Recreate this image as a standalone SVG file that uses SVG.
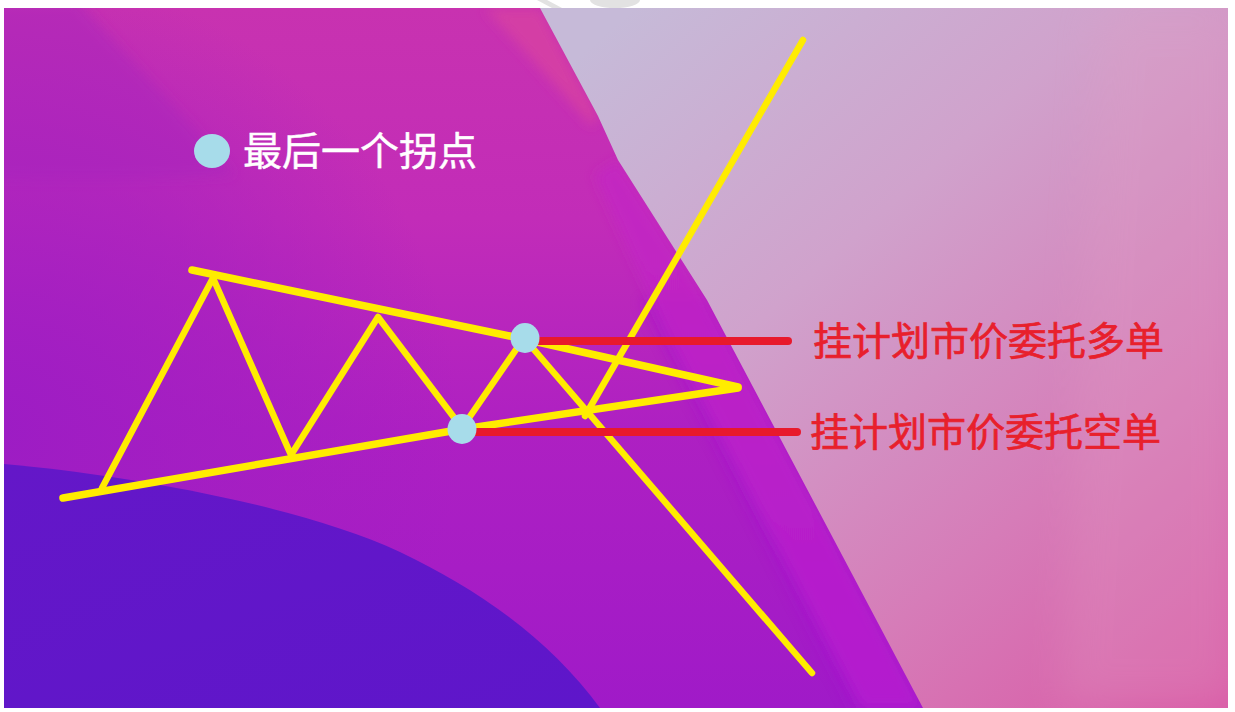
<svg xmlns="http://www.w3.org/2000/svg" width="1235" height="712" viewBox="0 0 1235 712">
  <style>
    .cjk { font-family: "Noto Sans CJK SC", "Noto Sans", sans-serif; }
    .lbl { font-size: 39px; fill: #e8202c; stroke: #e8202c; stroke-width: 0.7px; }
    .legend { font-size: 39px; fill: #ffffff; stroke: #ffffff; stroke-width: 0.5px; }
    .trend { fill: none; stroke: #ffec00; stroke-width: 7.5; stroke-linecap: round; stroke-linejoin: round; }
    .zig { fill: none; stroke: #ffec00; stroke-width: 6.5; stroke-linecap: round; stroke-linejoin: round; }
    .red { stroke: #e8192c; stroke-width: 8; stroke-linecap: round; }
    .dot { fill: #a7dcea; }
  </style>
  <defs>
    <clipPath id="frame"><rect x="4" y="8" width="1224" height="700"/></clipPath>
    <linearGradient id="base" x1="0" y1="0" x2="0" y2="1">
      <stop offset="0" stop-color="#c832b0"/>
      <stop offset="0.3" stop-color="#c22cb8"/>
      <stop offset="0.6" stop-color="#ae20c2"/>
      <stop offset="1" stop-color="#a01ac8"/>
    </linearGradient>
    <radialGradient id="leftShade" cx="0" cy="430" r="460" gradientUnits="userSpaceOnUse">
      <stop offset="0" stop-color="#9c1cc4" stop-opacity="0.95"/>
      <stop offset="0.55" stop-color="#a01ec2" stop-opacity="0.55"/>
      <stop offset="1" stop-color="#a01ec2" stop-opacity="0"/>
    </radialGradient>
    <linearGradient id="indigo" x1="0" y1="0" x2="1" y2="1">
      <stop offset="0" stop-color="#6417c8"/>
      <stop offset="1" stop-color="#5e16ca"/>
    </linearGradient>
    <linearGradient id="right" x1="620" y1="20" x2="1220" y2="700" gradientUnits="userSpaceOnUse">
      <stop offset="0" stop-color="#c6bad8"/>
      <stop offset="0.35" stop-color="#d0a2cc"/>
      <stop offset="0.7" stop-color="#d67cb8"/>
      <stop offset="1" stop-color="#d95aa6"/>
    </linearGradient>
    <linearGradient id="band" x1="0" y1="0" x2="0" y2="1">
      <stop offset="0" stop-color="#c427c2"/>
      <stop offset="1" stop-color="#b61cd0"/>
    </linearGradient>
    <filter id="soft" x="-20%" y="-20%" width="140%" height="140%"><feGaussianBlur stdDeviation="6"/></filter>
    <filter id="softer" x="-20%" y="-20%" width="140%" height="140%"><feGaussianBlur stdDeviation="20"/></filter>
  </defs>

  <rect x="0" y="0" width="1235" height="712" fill="#ffffff"/>

  <g id="background" clip-path="url(#frame)">
    <rect x="4" y="8" width="1224" height="700" fill="url(#base)"/>
    <path d="M-10,0 L78,0 C120,50 180,110 235,175 C170,180 80,180 -10,178 Z" fill="#b52ab8" opacity="0.8" filter="url(#soft)"/>
    <rect x="-40" y="-40" width="760" height="800" fill="url(#leftShade)"/>
    <path d="M640,300 L707,300 L923,708 L850,708 Z" fill="#a418cc" opacity="0.5" filter="url(#soft)"/>
    <path d="M595,175 L618,160 L707,300 L923,708 L862,708 L665,330 Z" fill="url(#band)" opacity="0.85" filter="url(#soft)"/>
    <path d="M4,464 C120,474 300,505 400,552 C480,590 550,640 600,708 L4,708 Z" fill="url(#indigo)"/>
    <path d="M485,8 L540,8 L598,116 L592,126 Z" fill="#d640a4" opacity="0.9" filter="url(#soft)"/>
    <path d="M540,8 L598,116 L618,160 L707,300 L923,708 L1228,708 L1228,8 Z" fill="url(#right)"/>
    <path d="M1100,8 L1240,8 L1240,708 L1060,708 Z" fill="#e2a4c6" opacity="0.25" filter="url(#softer)"/>
  </g>

  <path id="watermark" d="M537,0 L547,0 L562,8 L552,8 Z M590,0 A25,8 0 0 0 640,0 Z" fill="#e2e2e2"/>

  <g id="connectors">
    <polyline class="trend" points="192,270 524,339 738,387"/>
    <polyline class="trend" points="63,498 463,429 738,388"/>
    <polyline class="zig" points="102,488 213,278 291,455 378,317 462,428 524,338 812,673"/>
    <line class="zig" x1="585" y1="416" x2="803" y2="40" stroke-width="6"/>
    <line class="red" x1="532" y1="341" x2="788" y2="341"/>
    <line class="red" x1="470" y1="432" x2="797" y2="432"/>
  </g>

  <g id="pivot-long"><ellipse class="dot" cx="525" cy="338" rx="14.5" ry="15"/></g>
  <g id="pivot-short"><ellipse class="dot" cx="462" cy="429" rx="14.5" ry="15"/></g>

  <g id="legend">
    <ellipse class="dot" cx="212" cy="151" rx="18" ry="17"/>
    <text class="cjk legend" x="243" y="165">最后一个拐点</text>
  </g>
  <g id="label-long"><text class="cjk lbl" x="813" y="355">挂计划市价委托多单</text></g>
  <g id="label-short"><text class="cjk lbl" x="810" y="446">挂计划市价委托空单</text></g>
</svg>
